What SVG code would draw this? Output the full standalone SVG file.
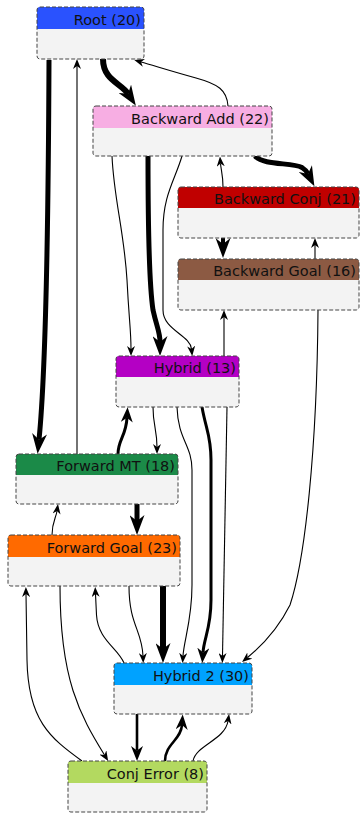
<svg xmlns="http://www.w3.org/2000/svg" width="360" height="814" viewBox="0 0 360 814">
<style>
.body{fill:#f3f3f3;stroke:none}
.frame{fill:none;stroke:#444;stroke-width:1;stroke-dasharray:4 2}
.lbl{font-family:"DejaVu Sans",sans-serif;font-size:14.5px;fill:#111;text-anchor:end}
.e{fill:none;stroke:#000}
.t1{stroke-width:1.1;marker-end:url(#m1)}
.t2{stroke-width:2.6;marker-end:url(#m2)}
.t3{stroke-width:5;marker-end:url(#m3)}
</style>
<defs>
<marker id="m1" viewBox="0 0 10 10" refX="3" refY="5" markerUnits="userSpaceOnUse" markerWidth="10" markerHeight="8" orient="auto" preserveAspectRatio="none"><path d="M0,0 L10,5 L0,10 L3,5 z" fill="#000"/></marker>
<marker id="m2" viewBox="0 0 10 10" refX="3" refY="5" markerUnits="userSpaceOnUse" markerWidth="15" markerHeight="12" orient="auto" preserveAspectRatio="none"><path d="M0,0 L10,5 L0,10 L3,5 z" fill="#000"/></marker>
<marker id="m3" viewBox="0 0 10 10" refX="3" refY="5" markerUnits="userSpaceOnUse" markerWidth="20" markerHeight="15" orient="auto" preserveAspectRatio="none"><path d="M0,0 L10,5 L0,10 L3,5 z" fill="#000"/></marker>
</defs>
<rect width="360" height="814" fill="#fff"/>

<g id="edges">
<path class="e t3" d="M49,60 C48,300 44,390 39,439.7"/>
<path class="e t1" d="M77,454 L77,66"/>
<path class="e t3" style="stroke-width:6" d="M103,59 C103,80 121,83 128.1,93.8"/>
<path class="e t1" d="M228,106 C227,90 218,84 196,78 S155,66 141,62"/>
<path class="e t3" d="M255,156 C264,166 292,162 302,167.5 Q306,170 308,173.9"/>
<path class="e t1" d="M223,187 C223,175 221,170 220.5,163.5"/>
<path class="e t3" style="stroke-width:4" d="M223,238 L223,244"/>
<path class="e t1" d="M315,259 L315,245"/>
<path class="e t1" d="M112,156 C114,200 124,230 127,280 C129,320 131,330 131,349"/>
<path class="e t3" d="M148,156 C148,250 150,290 153,310 C157,328 160,332 160,342"/>
<path class="e t1" d="M182,156 C175,180 163,195 163,230 L163,310 C163,330 190,335 191.5,349"/>
<path class="e t1" d="M224,356 L224,317"/>
<path class="e t1" d="M318,310 C317,450 305,560 290,605 Q275,635 247.5,657.5"/>
<path class="e t1" d="M153,407 C153,425 157,430 157,447"/>
<path class="e t2" style="stroke-width:3" d="M118,454 C118,440 126,436 127,417.8"/>
<path class="e t1" d="M177,407 C178,440 192,445 192,470 L192,585 C192,620 184,640 183,656"/>
<path class="e t2" style="stroke-width:3" d="M202,407 C206,430 211,435 211,460 L211,600 C211,628 204,638 203,652.5"/>
<path class="e t1" d="M227,407 L222.5,656"/>
<path class="e t3" d="M137,504 L137,521"/>
<path class="e t1" d="M52,535 C52,522 56,518 57,511"/>
<path class="e t3" style="stroke-width:6" d="M163,586 L163,649"/>
<path class="e t1" d="M129,586 C129,625 142,630 143,656"/>
<path class="e t1" d="M124,663 C118,648 98,640 96.5,615 L95.5,594"/>
<path class="e t1" d="M82,761 C50,738 28,720 27,660 L26,594"/>
<path class="e t1" d="M60,586 C60,680 80,715 104.5,755"/>
<path class="e t2" d="M137,714 L137,750.5"/>
<path class="e t2" d="M165,761 C165,744 181,740 182,725"/>
<path class="e t1" d="M193,761 C196,745 225,740 228,721"/>
</g>

<g id="root">
<rect class="body" x="37" y="7" width="107" height="52" rx="3"/>
<path d="M37,29 V10 Q37,7 40,7 H141 Q144,7 144,10 V29 Z" fill="#2a52fe"/>
<rect class="frame" x="37" y="7" width="107" height="52" rx="3"/>
<text class="lbl" x="141" y="24.5">Root (20)</text>
</g>

<g id="backward-add">
<rect class="body" x="93" y="106" width="179" height="50" rx="3"/>
<path d="M93,128 V109 Q93,106 96,106 H269 Q272,106 272,109 V128 Z" fill="#f7aee3"/>
<rect class="frame" x="93" y="106" width="179" height="50" rx="3"/>
<text class="lbl" x="269" y="123.5">Backward Add (22)</text>
</g>

<g id="backward-conj">
<rect class="body" x="178" y="187" width="181" height="51" rx="3"/>
<path d="M178,208 V190 Q178,187 181,187 H356 Q359,187 359,190 V208 Z" fill="#c00000"/>
<rect class="frame" x="178" y="187" width="181" height="51" rx="3"/>
<text class="lbl" x="356" y="204">Backward Conj (21)</text>
</g>

<g id="backward-goal">
<rect class="body" x="178" y="259" width="181" height="51" rx="3"/>
<path d="M178,280 V262 Q178,259 181,259 H356 Q359,259 359,262 V280 Z" fill="#8c5a43"/>
<rect class="frame" x="178" y="259" width="181" height="51" rx="3"/>
<text class="lbl" x="356" y="276">Backward Goal (16)</text>
</g>

<g id="hybrid">
<rect class="body" x="116" y="356" width="123" height="51" rx="3"/>
<path d="M116,377 V359 Q116,356 119,356 H236 Q239,356 239,359 V377 Z" fill="#b400c4"/>
<rect class="frame" x="116" y="356" width="123" height="51" rx="3"/>
<text class="lbl" x="236" y="373">Hybrid (13)</text>
</g>

<g id="forward-mt">
<rect class="body" x="16" y="454" width="162" height="50" rx="3"/>
<path d="M16,475 V457 Q16,454 19,454 H175 Q178,454 178,457 V475 Z" fill="#1b8a48"/>
<rect class="frame" x="16" y="454" width="162" height="50" rx="3"/>
<text class="lbl" x="175" y="471">Forward MT (18)</text>
</g>

<g id="forward-goal">
<rect class="body" x="8" y="535" width="172" height="51" rx="3"/>
<path d="M8,557 V538 Q8,535 11,535 H177 Q180,535 180,538 V557 Z" fill="#ff6a00"/>
<rect class="frame" x="8" y="535" width="172" height="51" rx="3"/>
<text class="lbl" x="177" y="552.5">Forward Goal (23)</text>
</g>

<g id="hybrid-2">
<rect class="body" x="114" y="663" width="138" height="51" rx="3"/>
<path d="M114,685 V666 Q114,663 117,663 H249 Q252,663 252,666 V685 Z" fill="#00a2ff"/>
<rect class="frame" x="114" y="663" width="138" height="51" rx="3"/>
<text class="lbl" x="249" y="680.5">Hybrid 2 (30)</text>
</g>

<g id="conj-error">
<rect class="body" x="68" y="761" width="139" height="51" rx="3"/>
<path d="M68,783 V764 Q68,761 71,761 H204 Q207,761 207,764 V783 Z" fill="#b3d960"/>
<rect class="frame" x="68" y="761" width="139" height="51" rx="3"/>
<text class="lbl" x="204" y="778.5">Conj Error (8)</text>
</g>
</svg>
